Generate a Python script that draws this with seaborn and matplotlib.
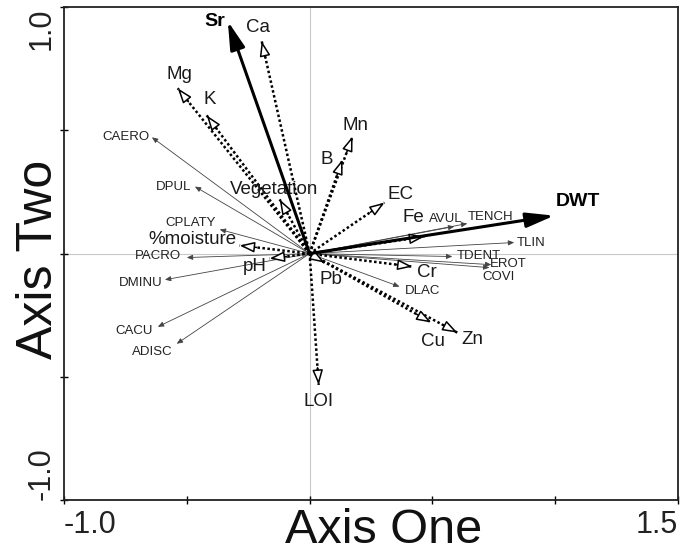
import numpy as np
import matplotlib.pyplot as plt
import seaborn as sns

sns.set_theme(style="white")
plt.rcParams['font.family'] = ['Liberation Sans', 'DejaVu Sans']

# ---------- CCA scores ----------
# species (thin solid arrows)
species = ['CAERO', 'DPUL', 'CPLATY', 'PACRO', 'DMINU', 'CACU', 'ADISC',
           'AVUL', 'TENCH', 'TLIN', 'TDENT', 'EROT', 'COVI', 'DLAC']
sp_x = [-0.642, -0.467, -0.366, -0.500, -0.589, -0.618, -0.541,
        0.589, 0.642, 0.833, 0.581, 0.740, 0.732, 0.366]
sp_y = [0.472, 0.272, 0.098, -0.016, -0.106, -0.297, -0.366,
        0.110, 0.122, 0.045, -0.012, -0.045, -0.057, -0.134]

# environmental variables (dotted arrows, open heads)
env = ['Ca', 'Mg', 'K', 'Vegetation', '%moisture', 'pH', 'Mn', 'B',
       'EC', 'Fe', 'Cr', 'Pb', 'Cu', 'Zn', 'LOI']
env_x = [-0.195, -0.537, -0.419, -0.122, -0.285, -0.163, 0.175, 0.134,
         0.305, 0.467, 0.419, 0.061, 0.496, 0.602, 0.037]
env_y = [0.862, 0.671, 0.561, 0.220, 0.033, -0.020, 0.476, 0.382,
         0.207, 0.069, -0.053, -0.037, -0.280, -0.321, -0.533]

# key variables (bold arrows)
key = ['Sr', 'DWT']
key_x = [-0.333, 0.996]
key_y = [0.943, 0.154]

# label placement (pixel offsets from arrow tip, alignment)
sp_lab = {'CAERO': (-2, 0, 'right'), 'DPUL': (-4, 0, 'right'), 'CPLATY': (-4, 6, 'right'),
          'PACRO': (-6, 2, 'right'), 'DMINU': (-2, -3, 'right'), 'CACU': (-5, -4, 'right'),
          'ADISC': (-4, -8, 'right'), 'AVUL': (-8, 7, 'center'), 'TENCH': (0, 7, 'left'),
          'TLIN': (3, 0, 'left'), 'TDENT': (4, 1, 'left'), 'EROT': (-1, 1, 'left'),
          'COVI': (-7, -9, 'left'), 'DLAC': (5, -4, 'left')}
env_lab = {'Ca': (-4, 14, 'center'), 'Mg': (2, 14, 'center'), 'K': (3, 16, 'center'),
           'Vegetation': (-6, 10, 'center'), '%moisture': (-3, 6, 'right'),
           'pH': (-15, -8, 'center'), 'Mn': (3, 11, 'center'), 'B': (-10, 0, 'right'),
           'EC': (3, 8, 'left'), 'Fe': (-11, 19, 'center'), 'Cr': (4, -6, 'left'),
           'Pb': (6, -17, 'center'), 'Cu': (2, -19, 'center'), 'Zn': (4, -7, 'left'),
           'LOI': (0, -17, 'center')}
key_lab = {'Sr': (-3, 0, 'right'), 'DWT': (2, 14, 'left')}

fig = plt.figure(figsize=(6.81, 5.54), dpi=100)
ax = fig.add_axes([0.094, 0.0975, 0.9016, 0.8895])
ax.set_xlim(-1.0, 1.5)
ax.set_ylim(-1.0, 1.0)

ax.axhline(0, color='#c8c8c8', lw=0.8, zorder=0)
ax.axvline(0, color='#c8c8c8', lw=0.8, zorder=0)

# species arrows
for name, x, y in zip(species, sp_x, sp_y):
    ax.annotate('', xy=(x, y), xytext=(0, 0),
                arrowprops=dict(arrowstyle='-|>,head_length=0.35,head_width=0.15',
                                color='#444444', lw=0.6, shrinkA=0, shrinkB=0,
                                mutation_scale=10), zorder=2)
    dx, dy, ha = sp_lab[name]
    ax.annotate(name, xy=(x, y), xytext=(dx, dy), textcoords='offset pixels',
                ha=ha, va='center', fontsize=9.5, color='#222222')

# environmental arrows
for name, x, y in zip(env, env_x, env_y):
    ax.plot([0, x], [0, y], color='black', lw=1.8, ls=(0, (1, 1)), zorder=3)
    d = np.hypot(x, y)
    bx, by = x - 0.07 * x / d, y - 0.07 * y / d
    ax.annotate('', xy=(x, y), xytext=(bx, by),
                arrowprops=dict(arrowstyle='-|>,head_length=0.9,head_width=0.32',
                                fc='white', ec='black', lw=1.1, shrinkA=0, shrinkB=0,
                                mutation_scale=10), zorder=4)
    dx, dy, ha = env_lab[name]
    ax.annotate(name, xy=(x, y), xytext=(dx, dy), textcoords='offset pixels',
                ha=ha, va='center', fontsize=13.5, color='#1a1a1a')

# bold arrows
for name, x, y in zip(key, key_x, key_y):
    ax.annotate('', xy=(x, y), xytext=(0, 0),
                arrowprops=dict(arrowstyle='-|>,head_length=1.7,head_width=0.45',
                                color='black', lw=2.2, shrinkA=0, shrinkB=0,
                                mutation_scale=10), zorder=5)
    dx, dy, ha = key_lab[name]
    ax.annotate(name, xy=(x, y), xytext=(dx, dy), textcoords='offset pixels',
                ha=ha, va='center', fontsize=14, fontweight='bold', color='black')

# ticks: only the end values labelled
ax.set_xticks([-1.0, -0.5, 0, 0.5, 1.0, 1.5])
ax.set_xticklabels(['-1.0', '', '', '', '', '1.5'], fontsize=22, color='#222222')
ax.set_yticks([-1.0, -0.5, 0, 0.5, 1.0])
ax.set_yticklabels(['-1.0', '', '', '', '1.0'], fontsize=22, color='#222222', rotation=90)
xl = ax.get_xticklabels()
xl[0].set_ha('left')
xl[-1].set_ha('right')
yl = ax.get_yticklabels()
yl[0].set_va('bottom')
yl[-1].set_va('top')
ax.tick_params(axis='both', direction='inout', length=6, width=1, color='black',
               bottom=True, left=True)
ax.tick_params(axis='x', pad=4)
ax.tick_params(axis='y', pad=2)

for s in ax.spines.values():
    s.set_color('#222222')
    s.set_linewidth(1.3)

ax.set_xlabel('Axis One', fontsize=35, color='#111111')
ax.set_ylabel('Axis Two', fontsize=36, color='#111111')
ax.xaxis.label.set_va('baseline')
ax.yaxis.label.set_va('baseline')
ax.xaxis.set_label_coords(0.521, -0.087)
ax.yaxis.set_label_coords(-0.0195, 0.489)

fig.savefig('out.png', dpi=100)
